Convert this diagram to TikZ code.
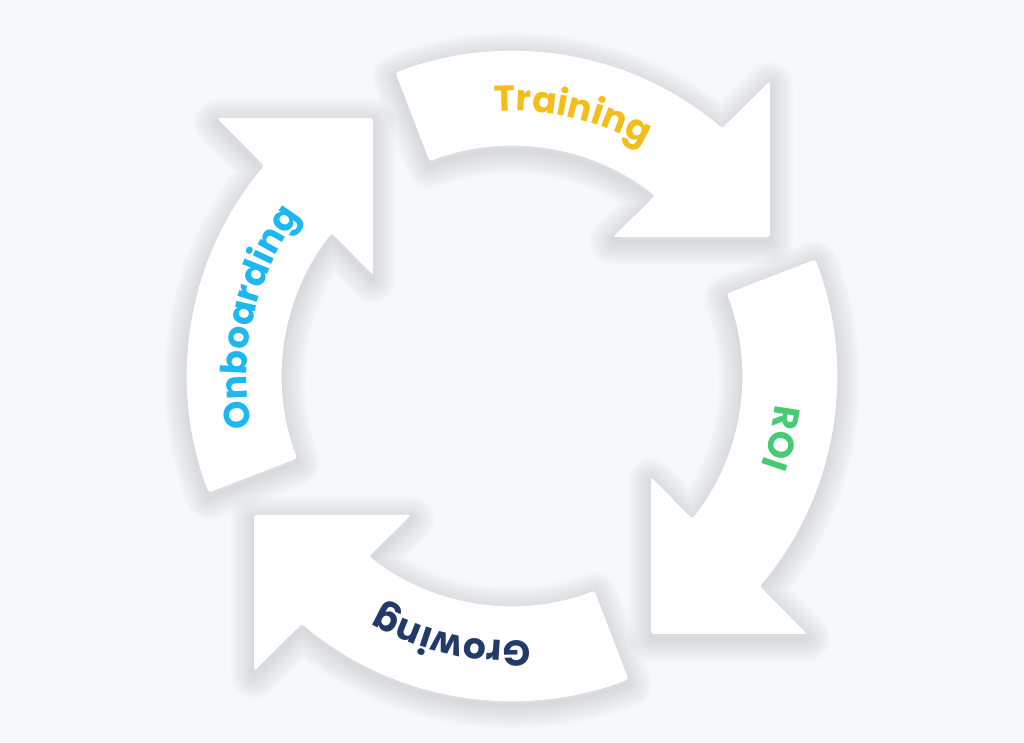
\documentclass[tikz,border=0pt]{standalone}
\usepackage{fontspec}
\setmainfont{Poppins}
\usetikzlibrary{decorations.text}

\definecolor{paper}{HTML}{F7F8FA}
\definecolor{shadowgray}{HTML}{8A8F99}
\definecolor{trainyellow}{HTML}{F4BE1A}
\definecolor{roigreen}{HTML}{45CC72}
\definecolor{grownavy}{HTML}{223A69}
\definecolor{onboardcyan}{HTML}{1DB8F2}

\newcommand{\arrowfont}{\fontsize{20.5}{24}\selectfont\bfseries}
% one quarter of the loop, head at the upper right
\newcommand{\looparrow}{(111:325) arc [start angle = 111, end angle = 49.7, radius = 325]
    -- (258, 295) -- (258, 139) -- (101, 139) -- (142.8, 180.3)
    arc [start angle = 51.6, end angle = 111, radius = 230] -- cycle}

\tikzset{
    arrowshadow/.style = {draw = shadowgray, opacity = 0.03, line join = round},
    arrowbody/.style = {fill = white, rounded corners = 1.5pt},
    arrowlabel/.style = {decorate, decoration = {text along path, text align = center,
        text color = #1}},
}

\begin{document}
\begin{tikzpicture}[x = 0.02cm, y = 0.02cm]
    \useasboundingbox (0, 0) rectangle (1024, 743);
    \fill [paper] (0, 0) rectangle (1024, 743);
    % soft shadows first, so they never fall on a neighbour
    \foreach \rot in {0, -90, -180, -270} {
        \begin{scope} [shift = {(512, 367)}, yshift = -2.5pt, rotate = \rot]
            \foreach \w in {2, 5, ..., 26}
                \draw [arrowshadow, line width = \w pt] \looparrow;
        \end{scope}
    }
    \foreach \rot in {0, -90, -180, -270} {
        \path [arrowbody, shift = {(512, 367)}, rotate = \rot] \looparrow;
    }
    % labels along the middle of each band
    \path [arrowlabel = trainyellow, decoration = {text = {|\arrowfont|Training}},
        shift = {(512, 367)}]
        (140:265) arc [start angle = 140, end angle = 14, radius = 265];
    \path [arrowlabel = roigreen, decoration = {text = {|\arrowfont|ROI}},
        shift = {(512, 367)}, rotate = -90]
        (140:265) arc [start angle = 140, end angle = 14, radius = 265];
    \path [arrowlabel = grownavy, decoration = {text = {|\arrowfont|Growing}},
        shift = {(512, 367)}, rotate = -180]
        (140:265) arc [start angle = 140, end angle = 14, radius = 265];
    \path [arrowlabel = onboardcyan, decoration = {text = {|\arrowfont|Onboarding}},
        shift = {(512, 367)}, rotate = -270]
        (140:265) arc [start angle = 140, end angle = 14, radius = 265];
\end{tikzpicture}
\end{document}
